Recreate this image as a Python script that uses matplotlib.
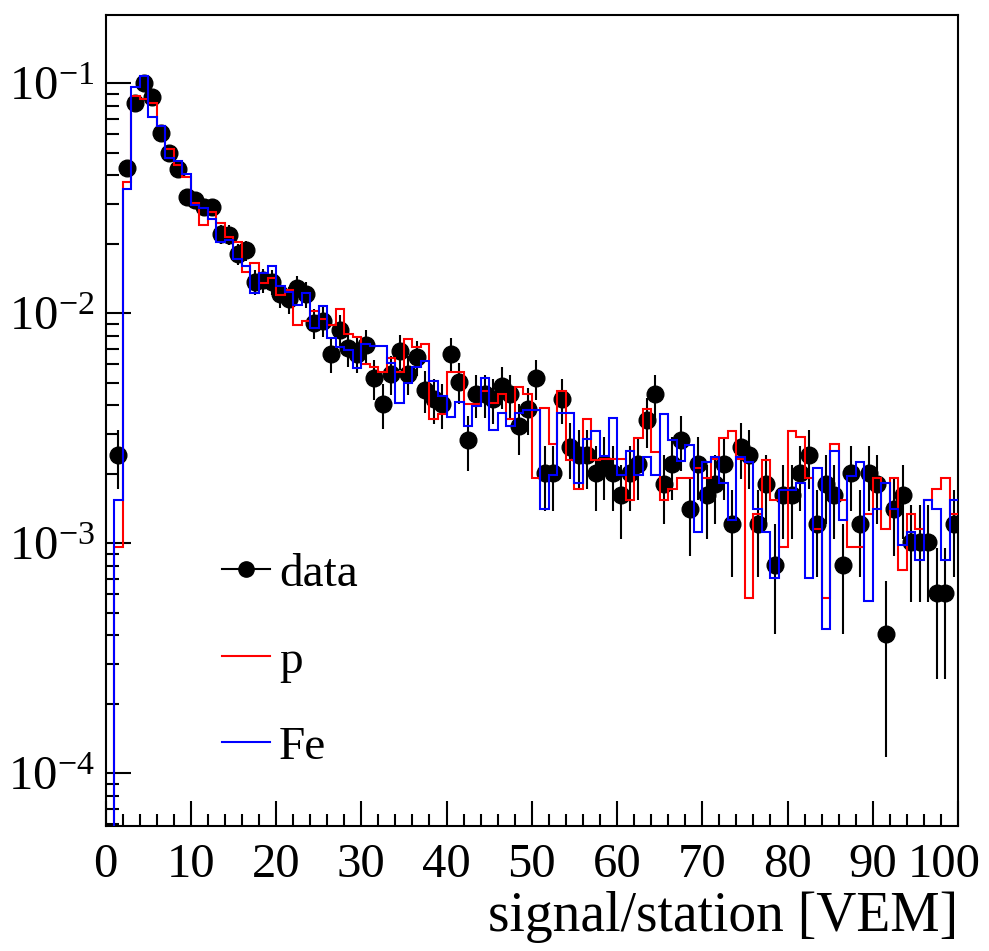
import numpy as np
import matplotlib
matplotlib.use("Agg")
import matplotlib.pyplot as plt
import matplotlib.transforms as mtransforms
from matplotlib.lines import Line2D
from matplotlib.ticker import LogLocator, MultipleLocator, NullFormatter

plt.rcParams['font.family'] = ['Liberation Serif', 'DejaVu Serif']
plt.rcParams['mathtext.fontset'] = 'custom'
plt.rcParams['mathtext.rm'] = 'Liberation Serif'

# ---- data: signal per station, 1 VEM bins from 0 to 100 ----
bin_edges = np.arange(0, 101, 1)
x_ticks = np.arange(0, 101, 10)

# observed counts per bin (data), normalised to unit area below
data_counts = [
    0, 12, 212, 406, 496, 431, 300, 247, 210, 158,
    154, 144, 143, 110, 109, 90, 93, 68, 69, 68,
    60, 57, 64, 60, 45, 46, 33, 42, 35, 33,
    36, 26, 20, 27, 34, 27, 32, 23, 21, 20,
    33, 25, 14, 22, 22, 21, 24, 22, 16, 19,
    26, 10, 10, 21, 13, 12, 12, 10, 11, 10,
    8, 10, 11, 17, 22, 9, 11, 14, 7, 11,
    8, 9, 11, 6, 13, 12, 6, 9, 4, 8,
    8, 10, 12, 6, 9, 8, 4, 10, 6, 10,
    9, 2, 7, 8, 5, 5, 5, 3, 3, 6,
]

# proton simulation (normalised)
p_vals = [
    0, 0.00096, 0.0373, 0.0883, 0.0852, 0.0818, 0.0654, 0.0517, 0.0442, 0.0393,
    0.0301, 0.0242, 0.0277, 0.0248, 0.0215, 0.0205, 0.0151, 0.0165, 0.0136, 0.0143,
    0.0120, 0.0126, 0.0089, 0.0093, 0.01026, 0.00945, 0.0089, 0.0104, 0.0081, 0.0079,
    0.00602, 0.00586, 0.00557, 0.00637, 0.00557, 0.0077, 0.00716, 0.00733, 0.00347, 0.00366,
    0.00557, 0.00557, 0.00403, 0.00403, 0.0046, 0.00406, 0.00446, 0.00346, 0.0048, 0.00444,
    0.00193, 0.00387, 0.00269, 0.0046, 0.0023, 0.00173, 0.00346, 0.00231, 0.00232, 0.00232,
    0.00232, 0.00154, 0.00288, 0.00383, 0.0025, 0.00154, 0.00173, 0.00193, 0.00193, 0.00212,
    0.00193, 0.00232, 0.00288, 0.00308, 0.00232, 0.000577, 0.00134, 0.0023, 0.00154, 0.000966,
    0.00309, 0.00289, 0.00192, 0.00115, 0.000577, 0.00269, 0.00154, 0.000966, 0.000966, 0.00134,
    0.00192, 0.00115, 0.00192, 0.000763, 0.00134, 0.00115, 0.00155, 0.00173, 0.00192, 0.00134,
]

# iron simulation (normalised)
fe_vals = [
    0, 0.00155, 0.0347, 0.0966, 0.108, 0.0711, 0.0654, 0.0472, 0.0461, 0.0403,
    0.0296, 0.0286, 0.0256, 0.0205, 0.0208, 0.0172, 0.0160, 0.0123, 0.0150, 0.0160,
    0.01315, 0.0124, 0.01087, 0.0123, 0.0086, 0.01076, 0.00778, 0.00716, 0.00692, 0.0058,
    0.00736, 0.00722, 0.00722, 0.00607, 0.00409, 0.00497, 0.00586, 0.00622, 0.0051, 0.00437,
    0.00353, 0.0041, 0.00324, 0.00395, 0.00521, 0.00311, 0.00367, 0.00324, 0.00367, 0.0038,
    0.0038, 0.00141, 0.00198, 0.00367, 0.00367, 0.00183, 0.00283, 0.00309, 0.0024, 0.00352,
    0.00198, 0.00253, 0.00198, 0.00238, 0.00198, 0.00365, 0.00281, 0.00228, 0.00267, 0.00112,
    0.00226, 0.00238, 0.00183, 0.00126, 0.00238, 0.00226, 0.00141, 0.00112, 0.000704, 0.0017,
    0.0017, 0.00182, 0.000704, 0.00212, 0.000423, 0.00253, 0.00126, 0.00197, 0.00225, 0.000563,
    0.00141, 0.00182, 0.00141, 0.000984, 0.00112, 0.000846, 0.00155, 0.00141, 0.000846, 0.00155,
]

# ---- prepare ----
counts = np.array(data_counts, float)
n_tot = counts.sum()
centers = 0.5 * (bin_edges[1:] + bin_edges[:-1])
keep = counts > 0
y_data = counts[keep] / n_tot
y_err = np.sqrt(counts[keep]) / n_tot   # poisson

# empty bins go to the floor of the log axis, like ROOT does
p_plot = np.where(np.array(p_vals) > 0, p_vals, 1e-9)
fe_plot = np.where(np.array(fe_vals) > 0, fe_vals, 1e-9)

fig = plt.figure(figsize=(9.89, 9.51), dpi=100)
ax = fig.add_axes([0.1067, 0.1314, 0.862, 0.8528])

ax.errorbar(centers[keep], y_data, yerr=y_err, fmt='o', color='black',
            ms=12, elinewidth=1.5, capsize=0, zorder=2)
ax.stairs(p_plot, bin_edges, baseline=None, color='#ff0000', lw=1.5, zorder=3)
ax.stairs(fe_plot, bin_edges, baseline=None, color='#0000ff', lw=1.5, zorder=4)

ax.set_yscale('log')
ax.set_xlim(0, 100)
ax.set_ylim(5.9e-5, 0.198)

ax.set_xticks(x_ticks)
ax.set_xticklabels([str(v) for v in x_ticks])
ax.xaxis.set_minor_locator(MultipleLocator(2))
ax.yaxis.set_major_locator(LogLocator(base=10, numticks=10))
ax.yaxis.set_minor_locator(LogLocator(base=10, subs=np.arange(2, 10), numticks=20))
ax.yaxis.set_minor_formatter(NullFormatter())

ax.tick_params(which='both', direction='in', top=False, right=False, width=1.5,
               labelsize=35)
ax.tick_params(which='major', length=18)
ax.tick_params(which='minor', length=9)
ax.tick_params(axis='x', pad=12)
ax.tick_params(axis='y', pad=8)
for s in ax.spines.values():
    s.set_linewidth(1.5)

# "100" is pulled left a little so it stays inside the canvas
last = ax.get_xticklabels()[-1]
last.set_transform(last.get_transform() +
                   mtransforms.ScaledTranslation(-14 / 100, 0, fig.dpi_scale_trans))

ax.set_xlabel('signal/station [VEM]', loc='right', fontsize=40, labelpad=3)

handles = [
    Line2D([], [], color='black', lw=1.5, marker='o', ms=11),
    Line2D([], [], color='#ff0000', lw=1.5),
    Line2D([], [], color='#0000ff', lw=1.5),
]
ax.legend(handles, ['data', 'p', 'Fe'], loc='upper left', bbox_to_anchor=(0.115, 0.36),
          frameon=False, fontsize=34, handlelength=1.0, handletextpad=0.2,
          labelspacing=0.92, borderaxespad=0)

fig.savefig('out.png', dpi=100)
